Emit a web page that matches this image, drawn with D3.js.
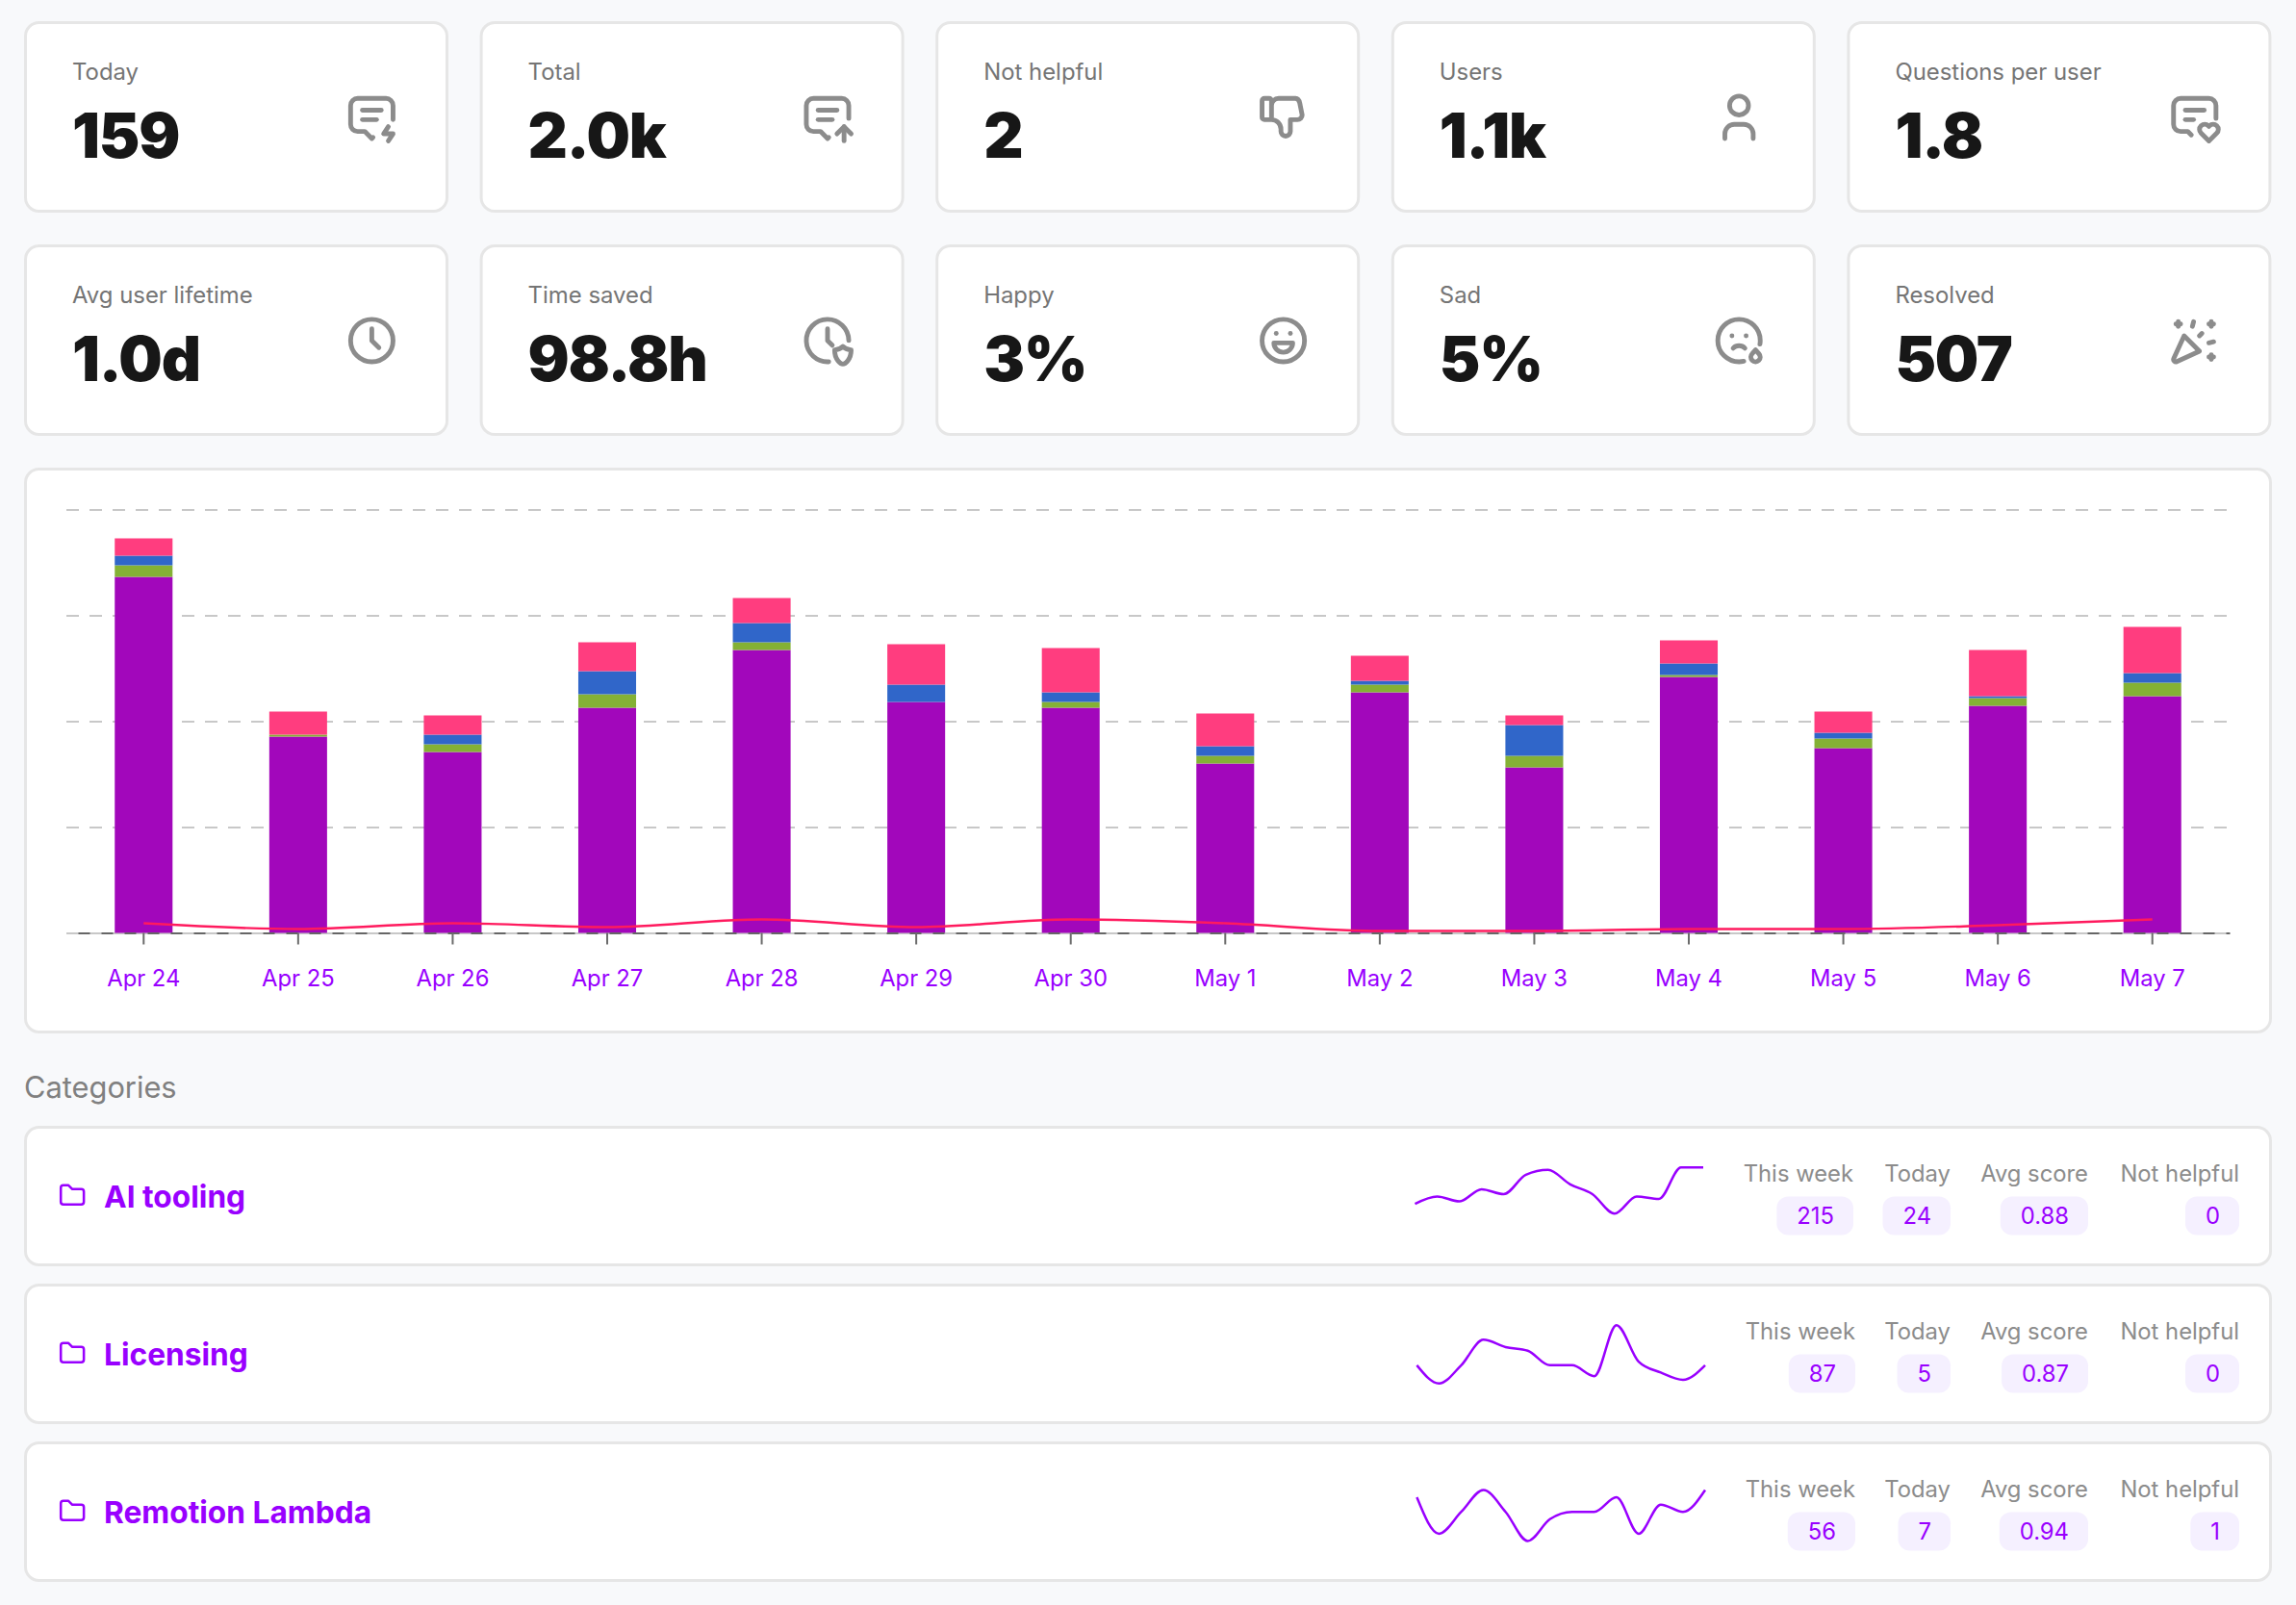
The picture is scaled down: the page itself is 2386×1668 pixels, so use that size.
<!DOCTYPE html>
<html>
<head>
<meta charset="utf-8">
<title>Support dashboard</title>
<script src="https://cdn.jsdelivr.net/npm/d3@7/dist/d3.min.js"></script>
<style>
  html, body { margin: 0; padding: 0; background: #f8f9fb; overflow: hidden; }
  svg { display: block; font-family: Inter, "Noto Sans", sans-serif; }
</style>
</head>
<body>
<svg id="board" width="2386" height="1668"></svg>
<script>
// Daily question counts per category
const days = ["Apr 24","Apr 25","Apr 26","Apr 27","Apr 28","Apr 29","Apr 30","May 1","May 2","May 3","May 4","May 5","May 6","May 7"];
const otherCounts     = [185,102,94,117,147,120,117,88,125,86,133,96,118,123];
const lambdaCounts    = [6,1,4,7,4,0,3,4,4,6,1,5,4,7];
const licensingCounts = [5,0,5,12,10,9,5,5,2,16,6,3,1,5];
const toolingCounts   = [9,12,10,15,13,21,23,17,13,5,12,11,24,24];
const unhelpfulLine   = [5,2,5,3,7,3,7,5,1,1,2,2,4,7];

// Headline figures
const statLabels = ["Today","Total","Not helpful","Users","Questions per user","Avg user lifetime","Time saved","Happy","Sad","Resolved"];
const statValues = ["159","2.0k","2","1.1k","1.8","1.0d","98.8h","3%","5%","507"];
const statIcons = [
  ["M8 9h8","M8 13h6","M12.5 20.5l-.5 .5l-3 -3h-3a3 3 0 0 1 -3 -3v-8a3 3 0 0 1 3 -3h12a3 3 0 0 1 3 3v6","M19 16l-2 3h4l-2 3"],
  ["M8 9h8","M8 13h6","M12.5 20.5l-.5 .5l-3 -3h-3a3 3 0 0 1 -3 -3v-8a3 3 0 0 1 3 -3h12a3 3 0 0 1 3 3v5.5","M19 22v-6","M22 19l-3 -3l-3 3"],
  ["M7 13v-8a1 1 0 0 0 -1 -1h-2a1 1 0 0 0 -1 1v7a1 1 0 0 0 1 1h3a4 4 0 0 1 4 4v1a2 2 0 0 0 4 0v-5h3a2 2 0 0 0 2 -2l-1 -5a2 3 0 0 0 -2 -2h-7a3 3 0 0 0 -3 3"],
  ["M8 7a4 4 0 1 0 8 0a4 4 0 0 0 -8 0","M6 21v-2a4 4 0 0 1 4 -4h4a4 4 0 0 1 4 4v2"],
  ["M8 9h8","M8 13h3.5","M10.5 19.5l-1.5 -1.5h-3a3 3 0 0 1 -3 -3v-8a3 3 0 0 1 3 -3h12a3 3 0 0 1 3 3v5.5","M18 22l3.35 -3.284a2.143 2.143 0 0 0 .005 -3.071a2.242 2.242 0 0 0 -3.129 -.006l-.224 .22l-.223 -.22a2.242 2.242 0 0 0 -3.128 -.006a2.143 2.143 0 0 0 -.006 3.071l3.355 3.296z"],
  ["M3 12a9 9 0 1 0 18 0a9 9 0 0 0 -18 0","M12 7v5l3 3"],
  ["M12.5 21a9 9 0 1 1 8.5 -9","M12 7v5l2 2","M22 16c0 4 -2.5 6 -3.5 6s-3.5 -2 -3.5 -6c1 0 2.5 -.5 3.5 -1.5c1 1 2.5 1.5 3.5 1.5z"],
  ["M3 12a9 9 0 1 0 18 0a9 9 0 1 0 -18 0","M9 9l.01 0","M15 9l.01 0","M8 13a4 4 0 1 0 8 0h-8"],
  ["M9 10l.01 0","M15 10l.01 0","M9.5 15.25a3.5 3.5 0 0 1 5 0","M17.566 17.606a2 2 0 1 0 2.897 .03l-1.463 -1.636l-1.434 1.606z","M20.865 13.517a8.937 8.937 0 0 0 .135 -1.517a9 9 0 1 0 -9 9c.69 0 1.36 -.076 2 -.222"],
  ["M4 5h2","M5 4v2","M11.5 4l-.5 2","M18 5h2","M19 4v2","M15 9l-1 1","M18 13l2 -.5","M18 19h2","M19 18v2","M14 16.518l-6.518 -6.518l-4.39 9.58a1 1 0 0 0 1.329 1.329l9.579 -4.39z"]
];
const folderIcon = "M5 4h4l3 3h7a2 2 0 0 1 2 2v8a2 2 0 0 1 -2 2h-14a2 2 0 0 1 -2 -2v-11a2 2 0 0 1 2 -2";

// Category rows
const categoryNames = ["AI tooling","Licensing","Remotion Lambda"];
const categoryTrends = [toolingCounts, licensingCounts, lambdaCounts];
const metricNames = ["This week","Today","Avg score","Not helpful"];
const thisWeek = ["215","87","56"];
const todayCounts = ["24","5","7"];
const avgScores = ["0.88","0.87","0.94"];
const notHelpful = ["0","0","1"];

const PURPLE = "#9900ff";
const svg = d3.select("#board");

function card(x, y, w, h) {
  svg.append("rect")
    .attr("x", x + 1.5).attr("y", y + 1.5)
    .attr("width", w - 3).attr("height", h - 3)
    .attr("rx", 14)
    .attr("fill", "#fff").attr("stroke", "#e6e6e6").attr("stroke-width", 3);
}

function icon(x, y, scale, paths, color, width) {
  svg.append("g")
    .attr("transform", `translate(${x},${y}) scale(${scale})`)
    .attr("fill", "none").attr("stroke", color).attr("stroke-width", width)
    .attr("stroke-linecap", "round").attr("stroke-linejoin", "round")
    .selectAll("path").data(paths).join("path").attr("d", d => d);
}

// Stat tiles: two rows of five
statLabels.forEach((label, i) => {
  const col = i % 5, row = Math.floor(i / 5);
  const x = 25 + col * 473.6, y = 22 + row * 232;
  card(x, y, 441, 199);
  svg.append("text").attr("x", x + 50).attr("y", y + 61)
    .attr("font-size", 23.9).attr("fill", "#757575").text(label);
  svg.append("text").attr("x", x + 50).attr("y", y + 142)
    .attr("font-size", 64).attr("font-weight", 900).attr("letter-spacing", -1.2)
    .attr("fill", "#171717").text(statValues[i]);
  icon(x + 332, y + 70.5, 2.45, statIcons[i], "#8c8c8c", 2);
});

// Stacked daily chart
card(25, 486, 2336, 588);

const x = d3.scaleBand().domain(days).range([69, 2317]).paddingInner(0.626).paddingOuter(0.313);
const y = d3.scaleLinear().domain([0, 220]).range([969.5, 529.5]);

const grid = svg.append("g")
  .attr("transform", "translate(69,0)")
  .call(d3.axisLeft(y).tickValues(d3.range(0, 221, 55)).tickSize(-2245).tickFormat(""));
grid.select(".domain").remove();
grid.selectAll("line")
  .attr("stroke", "#c8c8c8").attr("stroke-width", 2).attr("stroke-dasharray", "13 11");

const stackKeys = ["other", "lambda", "licensing", "tooling"];
const stackColors = d3.scaleOrdinal().domain(stackKeys).range(["#a207bb", "#84b135", "#3066c9", "#ff3d7f"]);
const rows = days.map((day, i) => ({
  day, other: otherCounts[i], lambda: lambdaCounts[i], licensing: licensingCounts[i], tooling: toolingCounts[i]
}));

svg.append("g").selectAll("g")
  .data(d3.stack().keys(stackKeys)(rows))
  .join("g").attr("fill", d => stackColors(d.key))
  .selectAll("rect")
  .data(d => d)
  .join("rect")
  .attr("x", d => x(d.data.day))
  .attr("width", x.bandwidth())
  .attr("y", d => y(d[1]))
  .attr("height", d => y(d[0]) - y(d[1]));

const xAxis = svg.append("g")
  .attr("transform", "translate(0,969.5)")
  .call(d3.axisBottom(x).tickSizeInner(12).tickSizeOuter(0).tickPadding(27));
xAxis.select(".domain")
  .attr("stroke", "#666").attr("stroke-width", 2)
  .attr("stroke-dasharray", "12 12").attr("stroke-dashoffset", -12);
xAxis.selectAll(".tick line").attr("stroke", "#6b6b6b").attr("stroke-width", 2);
xAxis.selectAll(".tick text")
  .attr("font-family", "Inter").attr("font-size", 23.8).attr("fill", PURPLE);

svg.append("path")
  .datum(unhelpfulLine)
  .attr("fill", "none").attr("stroke", "#ff1a5e").attr("stroke-width", 2.4)
  .attr("d", d3.line()
    .x((d, i) => x(days[i]) + x.bandwidth() / 2)
    .y(d => y(d))
    .curve(d3.curveMonotoneX));

// Category section
svg.append("text").attr("x", 25).attr("y", 1140.5)
  .attr("font-size", 30.8).attr("fill", "#808080").text("Categories");

const sparkFrames = [
  { left: 1470.5, right: 1770, top: 1213.2, bottom: 1261.2 },
  { left: 1472.4, right: 1772, top: 1377.2, bottom: 1437.8 },
  { left: 1472.4, right: 1772, top: 1548.5, bottom: 1601.5 }
];
const metricRight = [[1926, 2027, 2170, 2327], [1928, 2027, 2170, 2327], [1928, 2027, 2170, 2327]];

categoryNames.forEach((name, r) => {
  const top = 1170 + r * 164;
  card(25, top, 2336, 146);
  icon(59.2, top + 56.5, 1.33, [folderIcon], PURPLE, 1.9);
  svg.append("text").attr("x", 108).attr("y", top + 85)
    .attr("font-size", 31.7).attr("font-weight", 700).attr("fill", PURPLE).text(name);

  const frame = sparkFrames[r];
  const trend = categoryTrends[r];
  const sx = d3.scaleLinear().domain([0, trend.length - 1]).range([frame.left, frame.right]);
  const sy = d3.scaleLinear().domain(d3.extent(trend)).range([frame.bottom, frame.top]);
  svg.append("path").datum(trend)
    .attr("fill", "none").attr("stroke", PURPLE).attr("stroke-width", 2.5)
    .attr("d", d3.line().x((d, i) => sx(i)).y(d => sy(d)).curve(d3.curveMonotoneX));

  [thisWeek[r], todayCounts[r], avgScores[r], notHelpful[r]].forEach((value, m) => {
    const right = metricRight[r][m];
    svg.append("text").attr("x", right).attr("y", top + 58).attr("text-anchor", "end")
      .attr("font-size", 23.8).attr("fill", "#8c8c8c").text(metricNames[m]);
    const badge = svg.append("g");
    const rect = badge.append("rect").attr("fill", "#f5f0ff").attr("rx", 12);
    const text = badge.append("text").attr("x", right - 20).attr("y", top + 102)
      .attr("text-anchor", "end").attr("font-size", 23.8).attr("fill", PURPLE).text(value);
    const w = text.node().getComputedTextLength() + 41;
    rect.attr("x", right - w).attr("y", top + 73.5).attr("width", w).attr("height", 40);
  });
});
</script>
</body>
</html>
